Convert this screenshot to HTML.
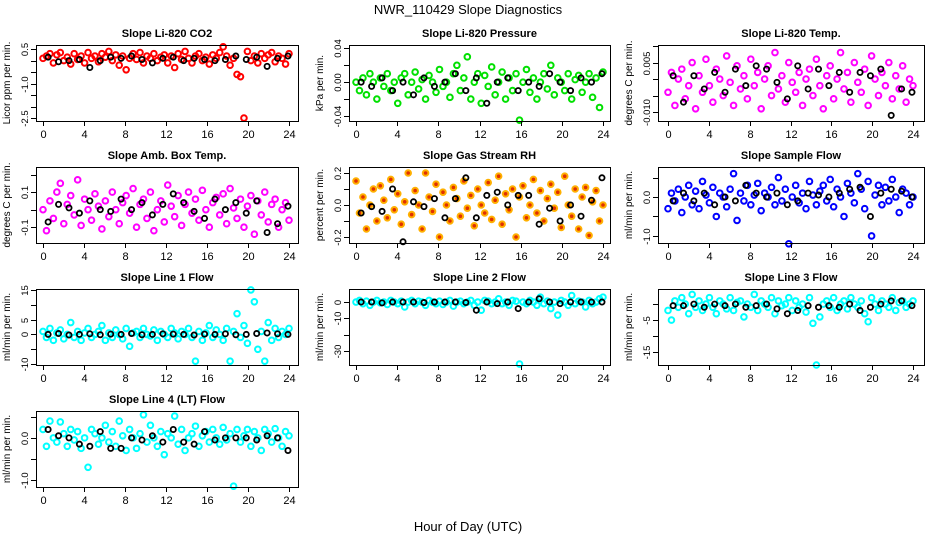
<!DOCTYPE html>
<html><head><meta charset="utf-8"><style>
body{margin:0;background:#fff}
svg{display:block;font-family:"Liberation Sans",sans-serif}
</style></head><body>
<svg id="c" width="936" height="540" viewBox="0 0 936 540">
<text x="468" y="14" text-anchor="middle" font-size="13">NWR_110429  Slope Diagnostics</text>
<text x="468" y="531" text-anchor="middle" font-size="13">Hour of Day (UTC)</text>
</svg>
<script>
const xTicks=[0,4,8,12,16,20,24];
const titles=["Slope Li-820 CO2","Slope Li-820 Pressure","Slope Li-820 Temp.","Slope Amb. Box Temp.","Slope Gas Stream RH","Slope Sample Flow","Slope Line 1 Flow","Slope Line 2 Flow","Slope Line 3 Flow","Slope Line 4 (LT) Flow"];
const yTitles=["Licor ppm per min.","kPa per min.","degrees C per min.","degrees C per min.","percent per min.","ml/min per min.","ml/min per min.","ml/min per min.","ml/min per min.","ml/min per min."];
const yTickVals=[[0.5,0,-0.5,-1,-1.5,-2,-2.5],[0.04,0.02,0,-0.02,-0.04],[0.01,0.005,0,-0.005,-0.01],[0.2,0.1,0,-0.1],[0.2,0.1,0,-0.1,-0.2],[0.5,0,-0.5,-1],[15,10,5,0,-5,-10],[0,-10,-20,-30],[0,-5,-10,-15],[0.5,0,-0.5,-1]];
const yTickLabels=[["0.5","","","-1.0","","","-2.5"],["0.04","","0.00","","-0.04"],["","0.005","","","-0.010"],["","0.1","","-0.1"],["0.2","","0.0","","-0.2"],["","0.0","","-1.0"],["15","","5","0","","-10"],["0","-10","","-30"],["","-5","","-15"],["","0.0","","-1.0"]];
const yRanges=[[-2.63,0.68],[-0.046,0.044],[-0.0127,0.0103],[-0.19,0.243],[-0.2375,0.2375],[-1.18,0.77],[-10.3,15.3],[-38.6,8],[-19,4.7],[-1.17,0.64]];
const P1c=[0.1,0.2,0.3,-0.1,0.25,0.35,0.0,0.15,-0.15,0.3,0.05,0.2,-0.1,0.35,0.1,0.2,-0.05,0.3,0.15,0.4,0.0,0.25,-0.2,0.2,-0.4,0.1,0.3,0.05,0.35,-0.1,0.2,0.1,0.3,0.0,0.15,0.25,-0.1,0.2,-0.3,0.3,0.05,0.4,0.1,-0.1,0.2,0.3,0.0,0.15,-0.15,0.25,0.1,0.35,0.6,0.2,-0.2,0.1,-0.6,-0.7,-2.5,0.4,0.0,0.2,-0.1,0.3,0.1,0.25,0.35,-0.05,0.2,0.1,-0.15,0.3];
const P1k=[0.15,-0.05,0.0,0.05,-0.3,0.0,0.15,0.1,0.2,0.05,-0.1,0.1,0.15,0.0,0.1,0.05,0.0,0.05,0.2,0.05,0.15,-0.25,0.1,0.2];
const P2c=[0.0,-0.01,0.005,-0.015,0.01,0.0,-0.02,0.005,-0.005,0.01,-0.01,0.0,-0.025,0.005,0.01,-0.015,0.0,0.012,-0.008,0.003,-0.02,0.008,0.0,-0.012,0.015,-0.005,0.0,-0.018,0.01,0.02,-0.01,0.005,0.03,-0.02,0.0,0.01,-0.025,0.008,-0.005,0.018,-0.015,0.0,0.012,-0.02,0.005,-0.01,0.01,-0.045,0.0,0.015,-0.012,0.005,-0.02,0.0,0.01,-0.008,0.02,-0.015,0.005,0.0,-0.01,0.01,-0.02,0.003,0.008,-0.012,0.0,0.01,-0.018,0.005,-0.03,0.012];
const P2k=[0.0,-0.005,0.005,-0.01,0.0,-0.015,0.005,-0.005,0.0,0.01,-0.01,0.005,-0.025,0.0,0.005,-0.01,0.0,-0.005,0.01,0.0,-0.01,0.005,0.0,0.01];
const P3c=[-0.004,0.002,-0.008,0.0,0.003,-0.006,-0.002,0.005,-0.009,0.001,-0.004,0.006,-0.002,-0.007,0.003,0.0,-0.005,0.007,-0.001,-0.008,0.004,-0.003,0.001,-0.006,0.006,-0.002,0.002,-0.009,0.0,0.004,-0.005,0.008,-0.003,0.001,-0.007,0.005,-0.001,-0.004,0.002,-0.008,0.0,0.003,-0.005,0.006,-0.002,-0.009,0.001,0.004,-0.006,0.0,0.008,-0.003,0.002,-0.007,0.005,-0.001,-0.004,0.003,-0.008,0.007,0.0,-0.005,0.002,-0.002,0.005,-0.006,0.001,-0.003,0.004,-0.007,0.0,-0.002];
const P3k=[0.001,-0.007,0.001,-0.003,0.002,-0.004,0.003,-0.002,0.004,0.003,-0.001,-0.006,0.004,-0.003,0.003,-0.002,0.002,-0.004,0.002,0.001,0.003,-0.011,-0.003,-0.004];
const P4c=[0.0,-0.12,0.05,-0.05,0.1,0.15,-0.08,0.03,0.08,-0.03,0.17,-0.09,0.06,0.0,-0.06,0.09,0.02,-0.11,0.05,-0.04,0.1,0.0,-0.08,0.04,0.08,-0.02,0.12,-0.1,0.03,0.06,-0.05,0.1,-0.12,0.0,0.05,-0.07,0.14,0.02,-0.04,0.08,-0.09,0.03,0.1,-0.02,0.06,-0.06,0.11,0.0,-0.1,0.04,0.07,-0.03,0.09,-0.08,0.12,0.01,-0.05,0.06,-0.1,0.02,0.08,-0.14,0.05,-0.03,0.1,-0.07,0.03,0.06,-0.1,0.0,0.04,-0.06];
const P4k=[-0.07,0.03,0.01,-0.02,0.05,0.0,-0.01,0.06,0.0,0.04,-0.03,0.03,0.09,0.04,-0.01,-0.05,0.06,0.0,0.04,-0.02,0.05,-0.13,-0.08,0.02];
const P5c=[0.15,-0.05,0.05,-0.15,0.0,0.1,-0.1,0.12,0.03,-0.08,0.16,-0.03,0.07,-0.12,0.02,0.2,-0.06,0.09,0.0,-0.15,0.2,0.05,-0.04,0.13,-0.2,0.08,0.0,-0.1,0.11,0.04,-0.07,0.15,-0.02,0.06,-0.13,0.1,0.0,-0.05,0.14,-0.09,0.03,0.18,-0.12,0.07,-0.03,0.1,-0.2,0.05,0.12,-0.08,0.0,0.16,-0.05,0.09,-0.1,0.04,0.13,-0.02,0.08,-0.14,0.18,0.0,-0.07,0.1,-0.15,0.05,0.11,-0.19,0.02,0.09,-0.1,0.0];
const P5k=[-0.05,-0.01,-0.04,0.1,-0.23,0.02,-0.01,0.04,-0.08,0.04,0.17,-0.08,0.06,0.08,0.0,0.06,0.06,-0.12,-0.02,-0.1,0.0,-0.07,0.03,0.17];
const P6c=[-0.3,0.1,-0.1,0.2,-0.4,0.0,0.3,-0.2,0.15,-0.3,0.4,0.05,-0.15,0.25,-0.5,0.1,0.0,-0.25,0.2,0.6,-0.6,0.1,-0.1,0.3,-0.2,0.05,0.35,-0.35,0.1,0.0,0.25,-0.2,0.5,-0.1,0.2,-1.2,0.0,0.3,-0.15,0.1,-0.3,0.4,0.05,-0.2,0.15,0.3,-0.1,0.45,-0.25,0.2,0.0,-0.5,0.35,0.1,-0.15,0.6,0.2,-0.3,0.4,-1.0,0.05,0.3,-0.2,0.25,-0.1,0.45,0.0,-0.4,0.2,0.1,-0.2,0.0];
const P6k=[-0.1,0.1,-0.1,0.1,-0.2,0.0,-0.1,0.3,0.1,0.0,0.1,-0.2,-0.1,0.1,0.05,0.0,0.1,0.2,0.25,-0.5,0.1,0.2,0.15,0.0];
const P7c=[1,-1,2,-2,0.5,1.5,-1.5,0,4,-1,1,-2,0.5,2,-1,0,1,3,-2,0.5,-1,1.5,0,-1.5,2,-4,0.5,1,-1,2,0,-0.5,1.5,-2,1,0,-1,2,0.5,-1.5,1,0,2,-1,-9,1,-2,0.5,3,-1,1.5,0,-2,2,-9,1,7,-1,3,-3,15,11,-5,1,-9,4,-2,2,-1,1,0,2];
const P7k=[0,0.3,-0.2,0,0.2,-0.1,0.1,0,0.3,-0.1,0,0.2,0.1,0,-0.2,0.1,0,0.2,-0.1,0,0.3,0.5,0.2,0];
const P8c=[0,1,-1,0.5,-2,0,1,-0.5,0,-1.5,1,0,-1,0.5,-3,0,1,-1,0.5,0,-2,1,0,-1,0.5,-1.5,0,1,-2.5,0,0.5,-1,0,1,-2,0,-5,1,0.5,-1,0,2,-1,0,-2,1,0.5,-38,0,-1,1,0,-2,3,-1,0.5,-4,0,-8,1,0,-2,4,-1,0.5,0,-3,1,-1,0,2,3];
const P8k=[0,0,-0.5,0,0,0,-0.3,0,0,0,-0.3,-5,0,-1,0,-4,0,2,0,-1,0,0,0,0];
const P9c=[-2,-5,1,-1,2,0,-3,3,-1,1,-2,0,2,-1,-3,1,0,-1.5,2,-2,0.5,1,-4,0,-1,3,-2,1,0,-1,2,-3,1,-0.5,0,2,-2,1,-1,0,-2.5,2,-6,-19,-4,0,1,-1,2,-2,0,1,-1.5,2,0,-1,1,-3,-5.5,2,0,-2,1,0,-1,2,-2,0.5,1,-1,0,1];
const P9k=[-0.5,-0.5,0,-1,0,-0.5,0,-1,-0.5,0,-1.5,-3,-2,-0.5,-1,-0.5,-1,0,-2,-1,0,1,1,-0.5];
const P10c=[0.2,-0.2,0.4,0.0,-0.1,0.38,0.1,-0.2,0.2,-0.05,0.15,-0.25,0.0,-0.7,0.2,0.1,-0.15,0.0,0.3,-0.1,0.15,-0.2,0.4,0.05,-0.3,0.2,0.0,-0.25,0.1,0.55,-0.1,0.3,0.0,-0.2,0.15,-0.4,0.1,0.0,0.52,-0.15,0.2,-0.3,0.0,0.1,0.28,-0.2,0.05,0.15,-0.1,0.2,0.0,-0.15,0.25,-0.05,0.1,-1.15,0.2,-0.1,0.05,0.2,-0.2,0.15,0.0,-0.3,0.2,0.1,-0.1,0.22,0.0,-0.2,0.15,0.05];
const P10k=[0.2,0.05,0.0,-0.15,-0.2,0.15,-0.25,-0.25,0.0,-0.05,0.05,-0.1,0.2,-0.1,-0.15,0.15,-0.05,0.0,0.0,0.0,-0.05,0.05,0.0,-0.3];
const colorSeries=[P1c,P2c,P3c,P4c,P5c,P6c,P7c,P8c,P9c,P10c];
const blackSeries=[P1k,P2k,P3k,P4k,P5k,P6k,P7k,P8k,P9k,P10k];
const colors=["#ff0000","#00e000","#ff00ff","#ff00ff","#ffb000","#0000ff","#00ffff","#00ffff","#00ffff","#00ffff"];
const fills=["none","none","none","none","#e03000","none","none","none","none","none"];

const NS="http://www.w3.org/2000/svg";
const svg=document.getElementById('c');
const colGeom=[{l:36,r:298,x0:43,x1:289},{l:349,r:610,x0:356,x1:603},{l:658,r:924,x0:668,x1:913}];
const rowTop=[45,167,289,411],H=76;
function mk(t,a,p){const e=document.createElementNS(NS,t);for(const k in a)e.setAttribute(k,a[k]);(p||svg).appendChild(e);return e;}
for(let p=0;p<10;p++){
  const cg=colGeom[p%3],top=rowTop[Math.floor(p/3)],bot=top+H;
  const g=mk('g',{});
  
  
  const xs=v=>cg.x0+(cg.x1-cg.x0)*v/24;
  const [ymin,ymax]=yRanges[p];
  const ys=v=>bot-(v-ymin)/(ymax-ymin)*H;
  const t=mk('text',{x:(cg.l+cg.r)/2,y:top-8,'text-anchor':'middle','font-size':11,'font-weight':'bold'},g);
  t.textContent=titles[p];
  
  
  const yt=mk('text',{transform:`translate(${cg.l-26},${(top+bot)/2}) rotate(-90)`,'text-anchor':'middle','font-size':10},g);
  yt.textContent=yTitles[p];
  
  
  const cs=colorSeries[p],n=cs.length;
  cs.forEach((v,i)=>{const c=mk('circle',{cx:xs(24*i/(n-1)),cy:ys(v),r:2.8,fill:fills[p],stroke:colors[p],'stroke-width':2},g);
    
    });
  const bs=blackSeries[p],m=bs.length;
  bs.forEach((v,i)=>{const c=mk('circle',{cx:xs(0.5+23.4*i/(m-1)),cy:ys(v),r:2.6,fill:'none',stroke:'#000','stroke-width':1.8},g);
    
    });
  const b=mk('rect',{x:cg.l+0.5,y:top+0.5,width:cg.r-cg.l,height:H,fill:'none',stroke:'#000','stroke-width':1},g);
  
  
  xTicks.forEach(v=>{const x=Math.round(xs(v))+0.5;
    mk('line',{x1:x,x2:x,y1:bot,y2:bot+5,stroke:'#000'},g);
    const l=mk('text',{x:x,y:bot+17,'text-anchor':'middle','font-size':11},g);l.textContent=v;
    
    });
  yTickVals[p].forEach((v,i)=>{const y=Math.round(ys(v))+0.5;
    mk('line',{x1:cg.l-5,x2:cg.l,y1:y,y2:y,stroke:'#000'},g);
    if(yTickLabels[p][i]){const l=mk('text',{transform:`translate(${cg.l-8},${y}) rotate(-90)`,'text-anchor':'middle','font-size':9.5},g);
      l.textContent=yTickLabels[p][i];
      
      }});
}
</script>
</body></html>
